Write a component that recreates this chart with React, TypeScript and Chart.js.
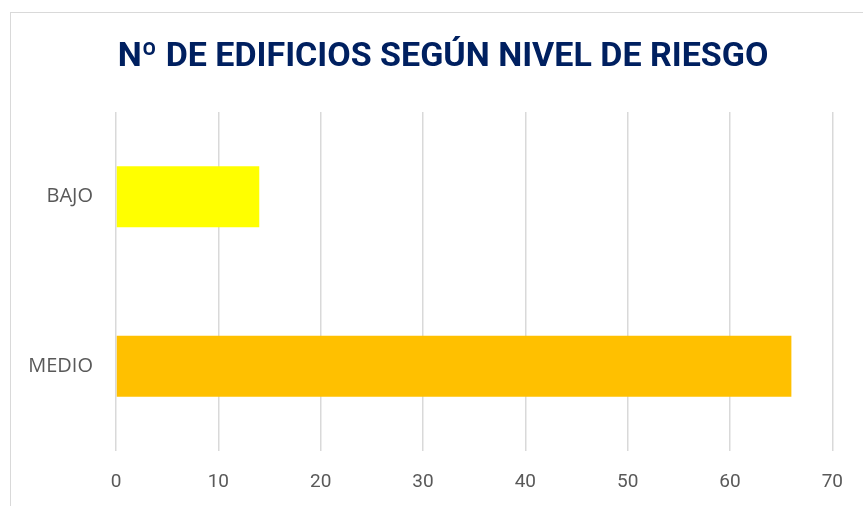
import React, { useEffect, useRef } from "react";
import { Chart, registerables } from "chart.js";

Chart.register(...registerables);

const categories = ["BAJO", "MEDIO"];
const values = [14, 66];
const barColors = ["#FFFF00", "#FFC000"];
const titleText = "Nº DE EDIFICIOS SEGÚN NIVEL DE RIESGO";

const titlePlugin = {
  id: "offsetTitle",
  afterDraw(chart: any) {
    const ctx = chart.ctx;
    ctx.save();
    ctx.font = "bold 34px Roboto";
    ctx.fillStyle = "#002060";
    ctx.textAlign = "center";
    ctx.textBaseline = "middle";
    ctx.fillText(titleText, chart.width / 2 + 11.5, 57);
    ctx.restore();
  },
};

export default function App() {
  const ref = useRef<HTMLCanvasElement | null>(null);

  useEffect(() => {
    if (!ref.current) return;
    const chart = new Chart(ref.current, {
      type: "bar",
      data: {
        labels: categories,
        datasets: [
          {
            data: values,
            backgroundColor: barColors,
            borderWidth: 0,
            categoryPercentage: 0.6,
            barPercentage: 0.6,
          },
        ],
      },
      options: {
        indexAxis: "y",
        responsive: false,
        animation: false,
        layout: { padding: { left: 0, right: 29, top: 112, bottom: 0 } },
        plugins: {
          legend: { display: false },
          tooltip: { enabled: false },
          title: { display: false },
        },
        scales: {
          x: {
            min: 0,
            max: 70,
            ticks: {
              stepSize: 10,
              color: "#595959",
              font: { family: "Roboto", size: 19 },
              padding: 20,
            },
            grid: { color: "#d9d9d9", lineWidth: 1.5, drawTicks: false },
            border: { display: false },
            afterFit: (scale: any) => {
              scale.height = 55;
            },
          },
          y: {
            ticks: {
              color: "#595959",
              font: { family: "Open Sans", size: 20 },
              padding: 23,
            },
            grid: { display: false, drawTicks: false },
            border: { display: false },
            afterFit: (scale: any) => {
              scale.width = 116;
            },
          },
        },
      },
      plugins: [titlePlugin],
    });
    return () => chart.destroy();
  }, []);

  return (
    <div style={{ position: "fixed", left: 0, top: 0, width: 863, height: 506, overflow: "hidden", background: "#fff" }}>
      <div
        style={{
          position: "absolute",
          left: 10,
          top: 12,
          width: 900,
          height: 600,
          border: "1.5px solid #d9d9d9",
          boxSizing: "border-box",
        }}
      />
      <canvas ref={ref} width={863} height={506} style={{ position: "absolute", left: 0, top: 0 }} />
    </div>
  );
}
